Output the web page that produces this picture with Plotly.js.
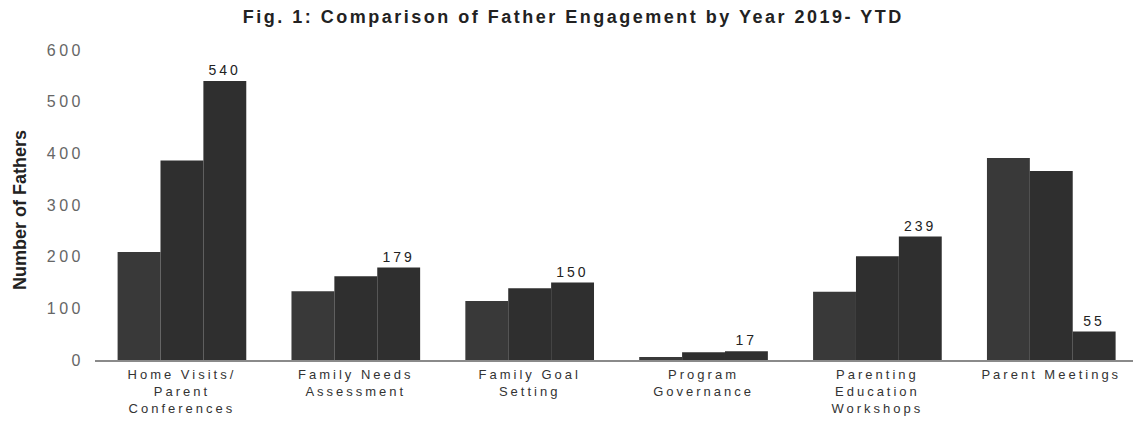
<!DOCTYPE html>
<html>
<head>
<meta charset="utf-8">
<script src="https://cdn.plot.ly/plotly-3.0.1.min.js"></script>
<style>
html,body{margin:0;padding:0;background:#fff;}
#chart{width:1133px;height:423px;}
#chart .gtitle{letter-spacing:2.5px;}
#chart .xtick text{letter-spacing:3px;}
#chart .ytick text{letter-spacing:3.5px;}
#chart text.bartext{letter-spacing:3px;}
</style>
</head>
<body>
<div id="chart"></div>
<script>
const categories = [
  "Home Visits/<br>Parent<br>Conferences",
  "Family Needs<br>Assessment",
  "Family Goal<br>Setting",
  "Program<br>Governance",
  "Parenting<br>Education<br>Workshops",
  "Parent Meetings"
];
const seriesNames = ["2019", "2020", "2021 YTD"];
const values2019 = [209, 133, 114, 6, 132, 391];
const values2020 = [386, 162, 139, 15, 201, 366];
const valuesYTD  = [540, 179, 150, 17, 239, 55];
const yTickValues = [0, 100, 200, 300, 400, 500, 600];
const yAxisTitle = "Number of Fathers";
const seriesColors = ["#393939", "#2f2f2f", "#2f2f2f"];

const traces = [values2019, values2020, valuesYTD].map((vals, i) => ({
  type: "bar",
  name: seriesNames[i],
  x: categories,
  y: vals,
  marker: {color: seriesColors[i], line: {width: 0}},
  text: i === 2 ? vals.map(String) : undefined,
  textposition: i === 2 ? "outside" : "none",
  textfont: {family: "Liberation Sans, Arial, sans-serif", size: 14, color: "#222"},
  cliponaxis: false,
  hoverinfo: "x+y"
}));

const layout = {
  width: 1133, height: 423,
  margin: {l: 95, r: 0, t: 50, b: 63},
  paper_bgcolor: "#fff", plot_bgcolor: "#fff",
  showlegend: false,
  barmode: "group",
  bargap: 0.26,
  bargroupgap: 0,
  title: {
    text: "<b>Fig. 1: Comparison of Father Engagement by Year 2019- YTD</b>",
    font: {family: "Liberation Sans, Arial, sans-serif", size: 18, color: "#222"},
    x: 0.506, xref: "container", xanchor: "center",
    y: 0.96, yref: "container", yanchor: "middle"
  },
  xaxis: {
    showgrid: false, zeroline: false,
    showline: true, linecolor: "#8a8a8a", linewidth: 1.5,
    ticks: "",
    tickfont: {family: "Liberation Sans, Arial, sans-serif", size: 13, color: "#333"},
    ticklabelstandoff: 2,
    range: [-0.5, 5.47]
  },
  yaxis: {
    range: [0, 600],
    tickvals: yTickValues,
    showgrid: false, zeroline: false, showline: false,
    ticks: "",
    tickfont: {family: "Liberation Sans, Arial, sans-serif", size: 16, color: "#666"},
    ticklabelstandoff: 10
  },
  annotations: [{
    text: "<b>" + yAxisTitle + "</b>",
    xref: "paper", yref: "paper",
    x: -75 / 1038, y: 0.484,
    xanchor: "center", yanchor: "middle",
    textangle: -90, showarrow: false,
    font: {family: "Liberation Sans Narrow, Arial Narrow, Liberation Sans, sans-serif", size: 18, color: "#222"}
  }]
};

Plotly.newPlot("chart", traces, layout, {displayModeBar: false, staticPlot: true});
</script>
</body>
</html>
